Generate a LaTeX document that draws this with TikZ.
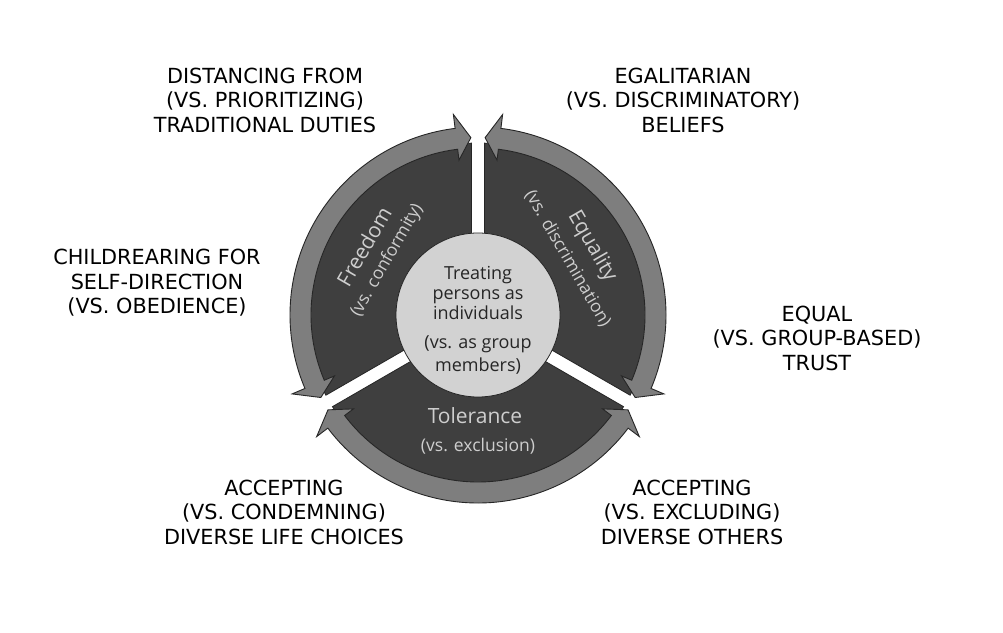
\documentclass[tikz,border=0pt]{standalone}
\usepackage{fontspec}
\setmainfont{DejaVu Sans}
\newfontfamily\innerfont{Open Sans}
\usepackage{xcolor}
\definecolor{sectorgray}{RGB}{63,63,63}
\definecolor{ringgray}{RGB}{126,126,126}
\definecolor{coregray}{RGB}{210,210,210}
\definecolor{edgegray}{RGB}{38,38,38}
\definecolor{sectortext}{RGB}{206,206,206}

% double-headed arrow along the ring, between two gap angles
\newcommand{\ringarrow}[2]{%
  \pgfmathsetmacro{\tipa}{#1+2.3}%
  \pgfmathsetmacro{\basea}{#1+7}%
  \pgfmathsetmacro{\tipb}{#2-2.3}%
  \pgfmathsetmacro{\baseb}{#2-7}%
  \filldraw[ring] (\basea:188) arc[start angle=\basea, end angle=\baseb, radius=188]
    -- (\baseb:202) -- (\tipb:177.5) -- (\baseb:156) -- (\baseb:167)
    arc[start angle=\baseb, end angle=\basea, radius=167]
    -- (\basea:156) -- (\tipa:177.5) -- (\basea:202) -- cycle;}

\begin{document}
\begin{tikzpicture}[
    x=1pt, y=1pt,
    sector/.style={fill=sectorgray, draw=edgegray, line width=0.8pt},
    ring/.style={fill=ringgray, draw=edgegray, line width=0.9pt, line join=miter},
    core/.style={circle, fill=coregray, draw=edgegray, line width=0.8pt, minimum size=164, inner sep=0pt},
    title/.style={font=\innerfont\fontsize{21}{24}\selectfont, text=sectortext, inner sep=0pt},
    subtitle/.style={font=\innerfont\fontsize{17.5}{20}\selectfont, text=sectortext, inner sep=0pt},
    coretext/.style={align=center, font=\innerfont\fontsize{18}{20}\selectfont, text=black!85, inner sep=0pt},
    label/.style={align=center, font=\fontsize{20.8}{24.5}\selectfont, text=black, inner sep=0pt}
]

\fill[white] (0,0) rectangle (1003,632);
\useasboundingbox (0,0) rectangle (1003,632);

\begin{scope}[shift={(478,317)}]
% Sectors
\foreach \a in {90,210,330}
  \filldraw[sector] ({\a+60}:7.5) -- ({\a+2.2}:172)
    arc[start angle={\a+2.2}, end angle={\a+117.8}, radius=172] -- cycle;

% Ring arrows
\ringarrow{90}{210}
\ringarrow{-30}{90}
\ringarrow{210}{330}

% Centre
\node[core] (centre) at (0,0) {};
\node[coretext] (treat) at (0,22) {Treating\\persons as\\individuals};
\node[coretext] (treatvs) at (0,-40) {(vs. as group\\[4pt]members)};

% Sector texts
\node[title, rotate=60] (freedom) at (149:133) {Freedom};
\node[subtitle, rotate=60] (freedomvs) at (149:106) {(vs. conformity)};
\node[title, rotate=-60] (equality) at (31:133) {Equality};
\node[subtitle, rotate=-60] (equalityvs) at (32:106) {(vs. discrimination)};
\node[title] (tolerance) at (-3,-101) {Tolerance};
\node[subtitle] (tolerancevs) at (0,-131) {(vs. exclusion)};
\end{scope}

% Outer labels
\node[label] (duties) at (265,532) {DISTANCING FROM\\(VS. PRIORITIZING)\\TRADITIONAL DUTIES};
\node[label] (beliefs) at (683,532) {EGALITARIAN\\(VS. DISCRIMINATORY)\\BELIEFS};
\node[label] (childrearing) at (157,349) {CHILDREARING FOR\\SELF-DIRECTION\\(VS. OBEDIENCE)};
\node[label] (trust) at (817,294) {EQUAL\\(VS. GROUP-BASED)\\TRUST};
\node[label] (others) at (692,120) {ACCEPTING\\(VS. EXCLUDING)\\DIVERSE OTHERS};
\node[label] (choices) at (284,120) {ACCEPTING\\(VS. CONDEMNING)\\DIVERSE LIFE CHOICES};

\end{tikzpicture}
\end{document}
